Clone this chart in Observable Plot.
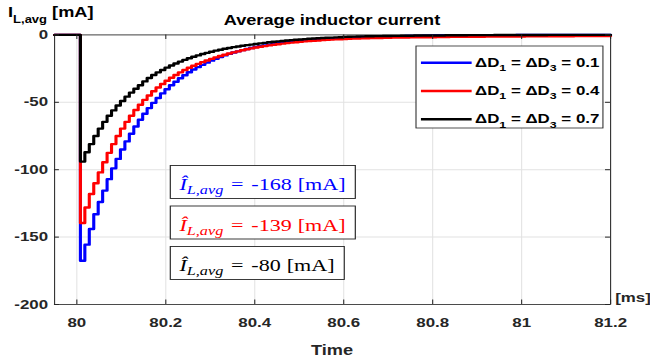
<!DOCTYPE html>
<html><head><meta charset="utf-8">
<script src="https://cdn.jsdelivr.net/npm/d3@7"></script>
<script src="https://cdn.jsdelivr.net/npm/@observablehq/plot@0.6"></script>
<style>body{margin:0;background:#fff} #chart svg{display:block}</style>
</head><body><div id="chart"></div>
<script>
// ---- data ----
const deltaD = ["0.1", "0.4", "0.7"];
const seriesColors = ["#0000ff", "#ff0000", "#000000"];
const peakLabels = ["-168", "-139", "-80"];
const xTicks = [80, 80.2, 80.4, 80.6, 80.8, 81, 81.2];
const yTicks = [0, -50, -100, -150, -200];
const tStart = 79.95, tEnd = 81.2, tDrop = 80.008, tStep = 0.01;

// average inductor current at each switching step (mA)
const blueValues = [
-167.5,-155.6,-144,-133,-124,-115.5,-107,-99,-92,-85,
-79,-73.3,-68,-63,-58.5,-54.3,-50.4,-46.8,-43.4,-40.3,
-37.4,-34.7,-32.2,-29.9,-27.7,-25.7,-23.9,-22.2,-20.6,-19.1,
-17.7,-16.4,-15.2,-14.1,-13.1,-12.2,-11.3,-10.5,-9.7,-9.0,
-8.4,-7.8,-7.2,-6.7,-6.2,-5.8,-5.4,-5.0,-4.6,-4.3,
-4.0,-3.7,-3.4,-3.2,-3.0,-2.8,-2.6,-2.4,-2.2,-2.0,
-1.9,-1.8,-1.7,-1.6,-1.5,-1.4,-1.3,-1.2,-1.1,-1.0,
-1.0,-0.9,-0.9,-0.8,-0.8,-0.7,-0.7,-0.6,-0.6,-0.5,
-0.5,-0.5,-0.4,-0.4,-0.4,-0.4,-0.3,-0.3,-0.3,-0.3,
-0.3,-0.2,-0.2,-0.2,-0.2,-0.2,-0.2,-0.2,-0.1,-0.1,
-0.1,-0.1,-0.1,-0.1,-0.1,-0.1,-0.1,-0.1,-0.1,-0.1,
0,0,0,0,0,0,0,0,0,0];
const redValues = [
-139.5,-128,-118,-110,-102,-94.5,-87.5,-81,-75,-69.5,
-64.5,-60,-55.7,-51.8,-48.2,-44.9,-41.8,-39,-36.4,-34,
-31.8,-29.7,-27.8,-26,-24.4,-22.9,-21.5,-20.2,-19,-17.8,
-16.7,-15.7,-14.7,-13.8,-13,-12.2,-11.4,-10.7,-10,-9.4,
-8.8,-8.3,-7.8,-7.3,-6.9,-6.5,-6.1,-5.7,-5.4,-5.1,
-4.8,-4.5,-4.3,-4.1,-3.9,-3.7,-3.5,-3.3,-3.2,-3.0,
-2.9,-2.8,-2.7,-2.6,-2.5,-2.4,-2.3,-2.25,-2.2,-2.1,
-2.0,-2.0,-1.9,-1.9,-1.8,-1.8,-1.8,-1.7,-1.7,-1.7,
-1.6,-1.6,-1.6,-1.5,-1.5,-1.5,-1.5,-1.4,-1.4,-1.4,
-1.4,-1.3,-1.3,-1.3,-1.3,-1.2,-1.2,-1.2,-1.2,-1.2,
-1.1,-1.1,-1.1,-1.1,-1.1,-1.0,-1.0,-1.0,-1.0,-1.0,
-1.0,-0.9,-0.9,-0.9,-0.9,-0.9,-0.9,-0.9,-0.8,-0.8];
const blackValues = [
-94,-87,-81,-75,-69.5,-64.5,-60,-56,-52.4,-49,
-45.8,-42.8,-40,-37.4,-34.5,-32,-29.8,-27.8,-26,-24.3,
-22.7,-21.2,-19.8,-18.5,-17.3,-16.2,-15.2,-14.2,-13.3,-12.5,
-11.7,-11,-10.3,-9.7,-9.1,-8.6,-8.1,-7.6,-7.2,-6.7,
-6.3,-5.9,-5.5,-5.1,-4.8,-4.5,-4.2,-3.9,-3.6,-3.4,
-3.1,-2.9,-2.7,-2.5,-2.3,-2.1,-2.0,-1.8,-1.7,-1.5,
-1.4,-1.3,-1.2,-1.1,-1.0,-1.0,-0.9,-0.9,-0.8,-0.8,
-0.7,-0.7,-0.6,-0.6,-0.6,-0.5,-0.5,-0.5,-0.4,-0.4,
-0.4,-0.4,-0.3,-0.3,-0.3,-0.3,-0.3,-0.2,-0.2,-0.2,
-0.2,-0.2,-0.2,-0.1,-0.1,-0.1,-0.1,-0.1,-0.1,-0.1,
-0.1,-0.1,-0.1,-0.1,-0.1,0,0,0,0,0,
0,0,0,0,0,0,0,0,0,0];

// ---- build table ----
const rows = [];
[blueValues, redValues, blackValues].forEach((vals, i) => {
  const s = deltaD[i];
  rows.push({t: tStart, v: 0, s});
  vals.forEach((v, k) => rows.push({t: tDrop + k * tStep, v, s}));
  rows.push({t: tEnd, v: vals[vals.length - 1], s});
});

// drawn at 500 wide then stretched horizontally to 650 (as the reference)
const W = 500, H = 364;
const mL = 41.5, mR = 30.8, mT = 34.4, mB = 60;
const innerW = W - mL - mR, innerH = H - mT - mB;
const axisColor = "#262626";
const sans = "'Liberation Sans', Arial, Helvetica, sans-serif";

const plot = Plot.plot({
  width: W, height: H,
  marginLeft: mL, marginRight: mR, marginTop: mT, marginBottom: mB,
  style: {fontFamily: sans, fontWeight: "bold", color: axisColor, background: "#fff", overflow: "visible"},
  x: {domain: [tStart, tEnd]},
  y: {domain: [-200, 0]},
  color: {domain: deltaD, range: seriesColors},
  marks: [
    Plot.gridX(xTicks, {stroke: "#e2e2e2", strokeOpacity: 1, strokeWidth: 0.8}),
    Plot.gridY(yTicks, {stroke: "#e2e2e2", strokeOpacity: 1, strokeWidth: 1}),
    Plot.frame({stroke: axisColor, strokeWidth: 0.8}),
    Plot.line(rows, {x: "t", y: "v", z: "s", stroke: "s", curve: "step-after", strokeWidth: 2.4}),
    Plot.tickX(xTicks, {x: d => d, insetTop: innerH - 4.5, stroke: axisColor, strokeWidth: 0.8}),
    Plot.tickX(xTicks, {x: d => d, insetBottom: innerH - 4.5, stroke: axisColor, strokeWidth: 0.8}),
    Plot.tickY(yTicks, {y: d => d, insetRight: innerW - 3.8, stroke: axisColor, strokeWidth: 1}),
    Plot.tickY(yTicks, {y: d => d, insetLeft: innerW - 3.8, stroke: axisColor, strokeWidth: 1}),
    Plot.axisX({ticks: xTicks, tickSize: 0, tickPadding: 13, fontSize: 13, label: null, tickFormat: d => String(d)}),
    Plot.axisY({ticks: yTicks, tickSize: 0, tickPadding: 5, fontSize: 13, label: null, tickFormat: d => String(d)})
  ]
});

document.getElementById("chart").appendChild(plot);
plot.setAttribute("width", 650);
plot.setAttribute("height", 364);
plot.setAttribute("preserveAspectRatio", "none");
plot.style.width = "650px";
plot.style.height = "364px";
plot.style.maxWidth = "none";

const svg = d3.select(plot);
const cx = mL + innerW / 2;

// title
svg.append("text").attr("x", cx).attr("y", 25).attr("text-anchor", "middle")
  .attr("font-size", 14).attr("font-weight", "bold").attr("fill", "#000").text("Average inductor current");
// x label and unit
svg.append("text").attr("x", cx).attr("y", 355).attr("text-anchor", "middle")
  .attr("font-size", 14).attr("font-weight", "bold").attr("fill", axisColor).text("Time");
svg.append("text").attr("x", mL + innerW + 4).attr("y", 302).attr("text-anchor", "start")
  .attr("font-size", 13).attr("font-weight", "bold").attr("fill", axisColor).text("[ms]");
// y label
const yl = svg.append("text").attr("x", 6.2).attr("y", 17).attr("text-anchor", "start")
  .attr("font-size", 14).attr("font-weight", "bold").attr("fill", "#000");
yl.append("tspan").text("I");
yl.append("tspan").attr("font-size", 10).attr("dy", 6).text("L,avg");
yl.append("tspan").attr("dy", -6).text(" [mA]");

// legend
const lg = svg.append("g").attr("text-anchor", "start");
lg.append("rect").attr("x", 320).attr("y", 46).attr("width", 143.8).attr("height", 82)
  .attr("fill", "#fff").attr("stroke", axisColor).attr("stroke-width", 0.8);
deltaD.forEach((d, i) => {
  const yy = 62.7 + i * 28.3;
  lg.append("line").attr("x1", 323.8).attr("x2", 362.8).attr("y1", yy).attr("y2", yy)
    .attr("stroke", seriesColors[i]).attr("stroke-width", 2.4);
  const t = lg.append("text").attr("x", 365.4).attr("y", yy + 4).attr("font-size", 13)
    .attr("font-weight", "bold").attr("fill", "#000");
  t.append("tspan").text("ΔD");
  t.append("tspan").attr("font-size", 9.5).attr("dy", 4.5).text("1");
  t.append("tspan").attr("dy", -4.5).text(" = ΔD");
  t.append("tspan").attr("font-size", 9.5).attr("dy", 4.5).text("3");
  t.append("tspan").attr("dy", -4.5).text(" = " + d);
});

// annotations
const annoLeft = 131;
const annoTops = [165.5, 206, 246.5];
const ag = svg.append("g").attr("text-anchor", "start")
  .attr("font-family", "'Liberation Serif', 'Times New Roman', serif").attr("font-weight", "normal");
peakLabels.forEach((p, i) => {
  const top = annoTops[i];
  const rect = ag.append("rect");
  const txt = ag.append("text").attr("x", annoLeft + 7).attr("y", top + 25)
    .attr("fill", seriesColors[i]).attr("font-size", 17).attr("font-weight", "normal");
  txt.append("tspan").attr("font-style", "italic").text("Î");
  txt.append("tspan").attr("font-style", "italic").attr("font-size", 12.5).attr("dy", 4).text("L,avg");
  txt.append("tspan").attr("dy", -4).attr("dx", 6).text("=");
  txt.append("tspan").attr("dx", 6).text(p);
  txt.append("tspan").attr("dx", 4.5).text("[mA]");
  const bb = txt.node().getBBox();
  rect.attr("x", annoLeft).attr("y", top).attr("width", bb.x + bb.width - annoLeft + 7.5).attr("height", 33)
    .attr("fill", "#fff").attr("stroke", axisColor).attr("stroke-width", 0.9);
});
</script>
</body></html>
